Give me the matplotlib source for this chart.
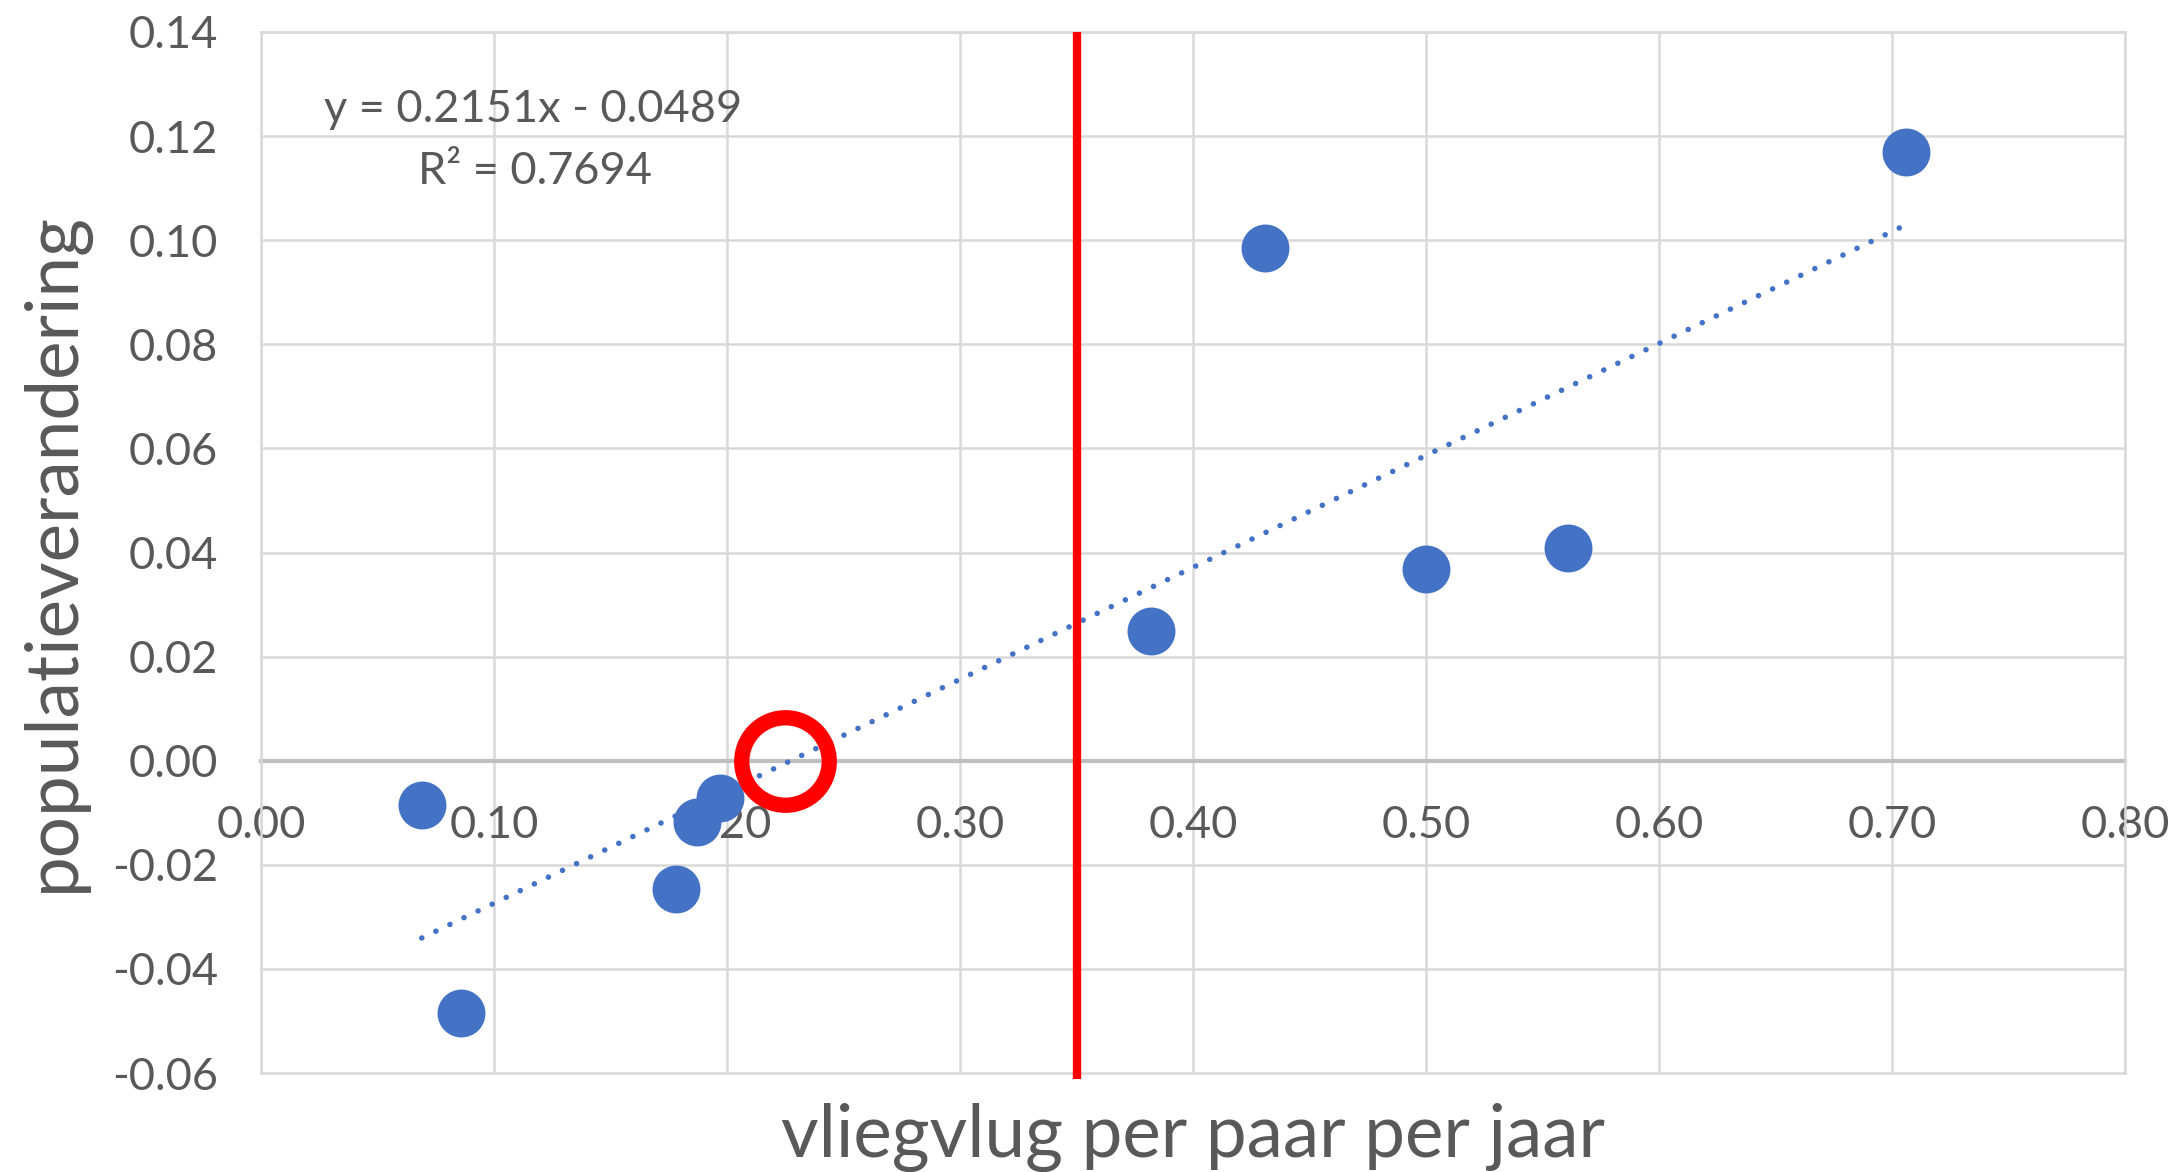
import matplotlib
matplotlib.use("Agg")
import matplotlib.pyplot as plt
import numpy as np

# data
vliegvlug = [0.069, 0.086, 0.178, 0.187, 0.197, 0.382, 0.431, 0.500, 0.561, 0.706]
populatie = [-0.0086, -0.0485, -0.0247, -0.0118, -0.0071, 0.0249, 0.0985, 0.0369, 0.0409, 0.117]
slope, intercept = 0.2151, -0.0489
r2 = 0.7694
grens = 0.35            # red vertical line
nulpunt = (0.225, 0.0)  # red circle

xticks = [0.0, 0.1, 0.2, 0.3, 0.4, 0.5, 0.6, 0.7, 0.8]
yticks = [-0.06, -0.04, -0.02, 0.0, 0.02, 0.04, 0.06, 0.08, 0.10, 0.12, 0.14]

txt = '#595959'
blauw = '#4472C4'
grid_c = '#D9D9D9'

plt.rcParams['font.family'] = ['Lato', 'DejaVu Sans']

fig = plt.figure(figsize=(21.83, 11.72), dpi=100)
ax = fig.add_axes([261/2183, 1 - 1073/1172, 1864/2183, 1041/1172])

ax.set_xlim(0, 0.8)
ax.set_ylim(-0.06, 0.14)
ax.set_xticks(xticks)
ax.set_yticks(yticks)
ax.set_xticklabels(['%.2f' % v for v in xticks])
ax.set_yticklabels(['%.2f' % v for v in yticks])

ax.grid(True, color=grid_c, linewidth=1.8, zorder=0)
for gl in ax.xaxis.get_gridlines() + ax.yaxis.get_gridlines():
    gl.set_clip_on(False)
ax.set_axisbelow(True)

for s in ['top', 'left', 'right']:
    ax.spines[s].set_color(grid_c)
    ax.spines[s].set_linewidth(1.8)
ax.spines['bottom'].set_position(('data', 0))
ax.spines['bottom'].set_color('#BFBFBF')
ax.spines['bottom'].set_linewidth(3)
ax.spines['bottom'].set_zorder(1)

ax.tick_params(axis='both', length=0, labelsize=32.5, labelcolor=txt)
ax.tick_params(axis='y', pad=31)
ax.tick_params(axis='x', pad=32)

# trendline
xs = np.array([min(vliegvlug), max(vliegvlug)])
ax.plot(xs, slope * xs + intercept, color=blauw, lw=4,
        linestyle=(0, (0.01, 2.8)), dash_capstyle='round', zorder=2)

ax.scatter(vliegvlug, populatie, s=34.5**2, color=blauw, zorder=3, linewidths=0)

ax.axvline(grens, ymin=-0.006, ymax=1, color='#FF0000', lw=6, clip_on=False,
           solid_capstyle='butt', zorder=4)
ax.plot([nulpunt[0]], [nulpunt[1]], marker='o', markersize=63, markerfacecolor='none',
        markeredgecolor='#FF0000', markeredgewidth=11, zorder=5)

ax.text(0.146, 0.926, 'y = %.4fx - %.4f' % (slope, -intercept), transform=ax.transAxes,
        ha='center', va='center', fontsize=32.5, color=txt)
ax.text(0.147, 0.866, 'R² = %.4f' % r2, transform=ax.transAxes,
        ha='center', va='center', fontsize=32.5, color=txt)

ax.set_xlabel('vliegvlug per paar per jaar', fontsize=52.5, color=txt)
ax.xaxis.set_label_coords(0.5, -0.062)
ax.xaxis.label.set_verticalalignment('center')
ax.set_ylabel('populatieverandering', fontsize=52.5, color=txt)
ax.yaxis.set_label_coords(-0.111, 0.5)
ax.yaxis.label.set_verticalalignment('center')

fig.savefig('out.png', dpi=100)
